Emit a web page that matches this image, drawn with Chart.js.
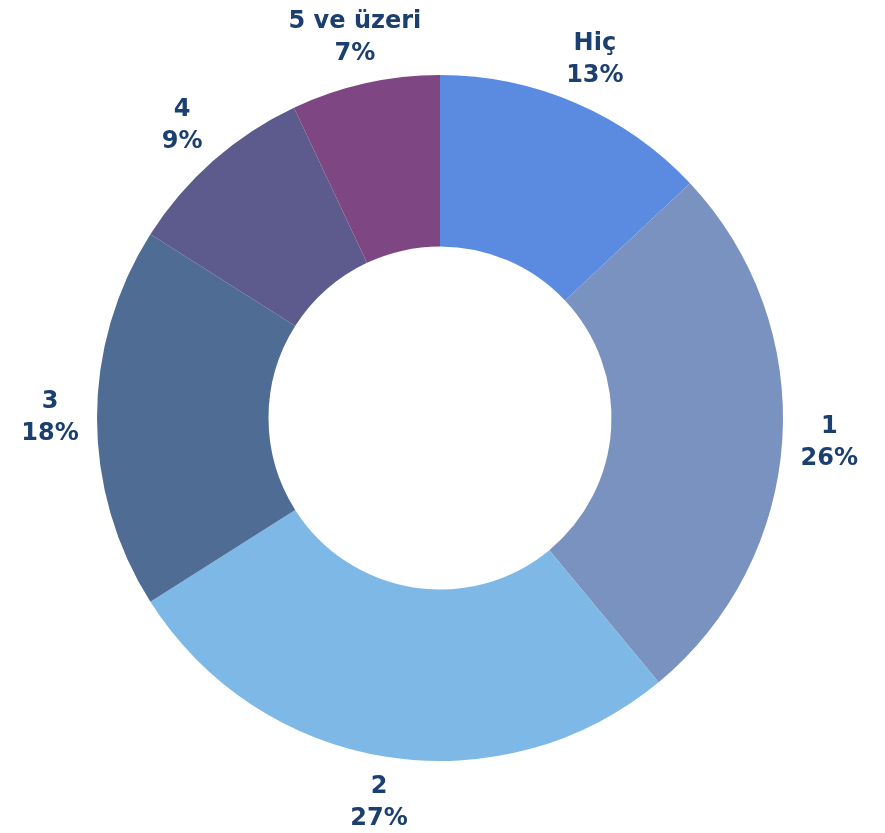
<!DOCTYPE html>
<html>
<head>
<meta charset="utf-8">
<script src="https://cdn.jsdelivr.net/npm/chart.js@4.4.0/dist/chart.umd.min.js"></script>
<style>
html,body{margin:0;padding:0;background:#fff;}
#wrap{width:885px;height:833px;position:relative;}
</style>
</head>
<body>
<div id="wrap"><canvas id="c"></canvas></div>
<script>
const categories = ["Hiç", "1", "2", "3", "4", "5 ve üzeri"];
const values = [13, 26, 27, 18, 9, 7];
const percentLabels = ["13%", "26%", "27%", "18%", "9%", "7%"];
const colors = ["#5B8BE1", "#7A92C0", "#7DB8E7", "#4F6C94", "#5D5B8D", "#7E4784"];

const labelPlugin = {
  id: 'outerLabels',
  afterDatasetsDraw(chart) {
    const ctx = chart.ctx;
    const meta = chart.getDatasetMeta(0);
    ctx.save();
    ctx.fillStyle = '#1B3F6E';
    ctx.font = 'bold 24px "DejaVu Sans", sans-serif';
    ctx.textAlign = 'center';
    ctx.textBaseline = 'middle';
    meta.data.forEach((arc, i) => {
      const p = arc.getProps(['x','y','startAngle','endAngle','outerRadius'], true);
      const mid = (p.startAngle + p.endAngle) / 2;
      const r = p.outerRadius + 47;
      const x = p.x + Math.cos(mid) * r;
      const y = p.y + Math.sin(mid) * r;
      ctx.fillText(categories[i], x, y - 16);
      ctx.fillText(percentLabels[i], x, y + 16);
    });
    ctx.restore();
  }
};

new Chart(document.getElementById('c'), {
  type: 'doughnut',
  data: {
    labels: categories,
    datasets: [{
      data: values,
      backgroundColor: colors,
      borderWidth: 0
    }]
  },
  options: {
    responsive: true,
    maintainAspectRatio: false,
    animation: false,
    cutout: '50%',
    layout: { padding: { top: 75, bottom: 72, left: 97, right: 102 } },
    plugins: { legend: { display: false }, tooltip: { enabled: false } }
  },
  plugins: [labelPlugin]
});
</script>
</body>
</html>
